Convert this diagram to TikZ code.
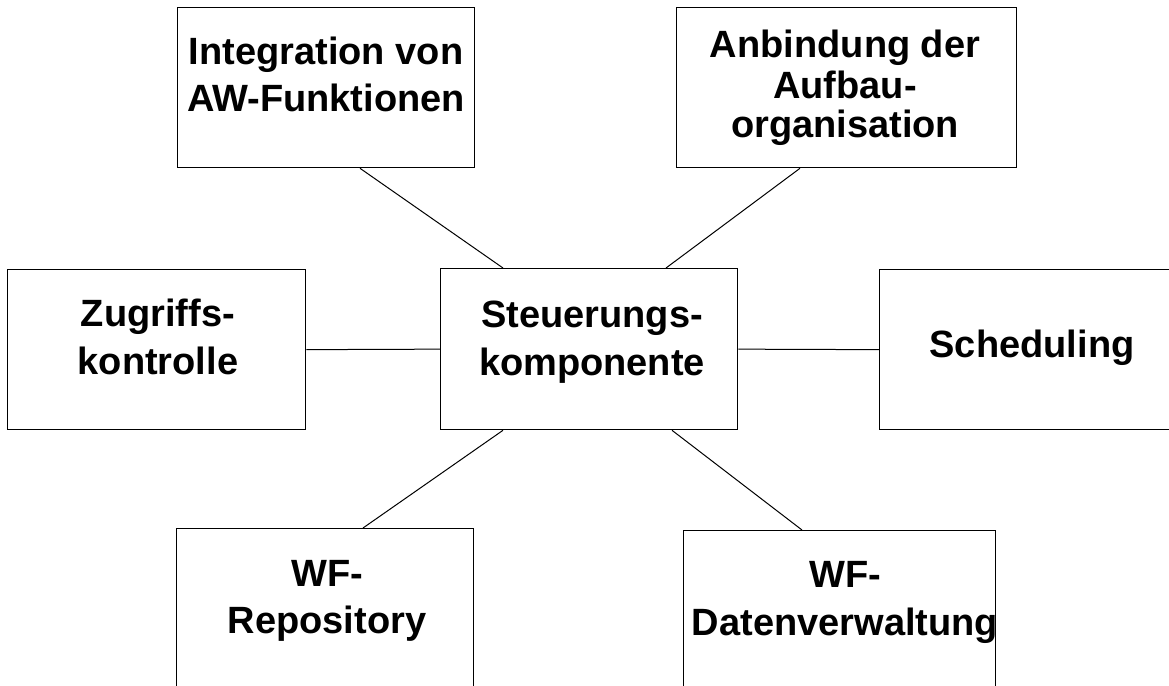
\documentclass[tikz,border=0pt]{standalone}
\usepackage{fontspec}
\setmainfont{Liberation Sans}
\usetikzlibrary{calc}
\tikzset{
  box/.style={draw=black, line width=1.3pt, rectangle, inner sep=0pt, anchor=north west},
  conn/.style={draw=black, line width=1pt},
  lbl/.style={inner sep=0pt, anchor=base, font=\bfseries\fontsize{38}{48}\selectfont},
}
\newcommand\twol[2]{\begin{tabular}[t]{@{}c@{}}#1\\#2\end{tabular}}
\newcommand\threel[3]{\begin{tabular}[t]{@{}c@{}}#1\\#2\\#3\end{tabular}}
\begin{document}
\begin{tikzpicture}[x=1pt,y=1pt]
\useasboundingbox (0,0) rectangle (1169,-685);
\clip (0,0) rectangle (1169,-685);
\fill[white] (0,0) rectangle (1169,-685);

% boxes
\node[box, minimum width=297pt, minimum height=160pt] (int) at (177,-7) {};
\node[box, minimum width=340pt, minimum height=160pt] (anb) at (676,-7) {};
\node[box, minimum width=298pt, minimum height=160pt] (zug) at (7,-269) {};
\node[box, minimum width=297pt, minimum height=161pt] (ctr) at (440,-268) {};
\node[box, minimum width=307pt, minimum height=160pt] (sch) at (879,-269) {};
\node[box, minimum width=297pt, minimum height=160pt] (rep) at (176,-528) {};
\node[box, minimum width=312pt, minimum height=160pt] (dat) at (683,-530) {};

% connectors
\draw[conn] ([xshift=183pt]int.south west) -- ([xshift=63pt]ctr.north west);
\draw[conn] ([xshift=124pt]anb.south west) -- ([xshift=226pt]ctr.north west);
\draw[conn] (zug.east) -- (ctr.west);
\draw[conn] (ctr.east) -- (sch.west);
\draw[conn] ([xshift=63pt]ctr.south west) -- ([xshift=187pt]rep.north west);
\draw[conn] ([xshift=232pt]ctr.south west) -- ([xshift=119pt]dat.north west);

% labels
\node[lbl, font=\bfseries\fontsize{38}{47}\selectfont] (intT) at (326,-65) {\twol{Integration von}{AW-Funktionen}};
\node[lbl, font=\bfseries\fontsize{38}{40}\selectfont] (anbT) at (845,-58) {\threel{Anbindung der}{Aufbau-}{organisation}};
\node[lbl] (zugT) at (158,-326) {\twol{Zugriffs-}{kontrolle}};
\node[lbl] (ctrT) at (592,-327) {\twol{Steuerungs-}{komponente}};
\node[lbl] (schT) at (1032,-357) {Scheduling};
\node[lbl, font=\bfseries\fontsize{38}{47}\selectfont] (repT) at (327,-586) {\twol{WF-}{Repository}};
\node[lbl] (datT) at (845,-587) {\twol{WF-}{Datenverwaltung}};
\end{tikzpicture}
\end{document}
